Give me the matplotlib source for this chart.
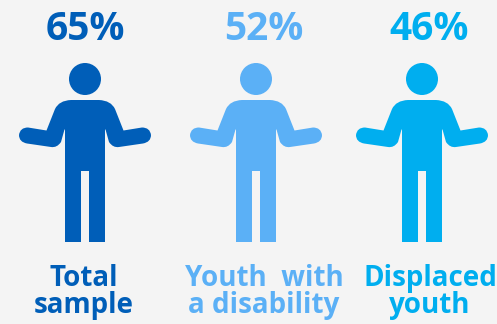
import matplotlib
matplotlib.use("Agg")
import matplotlib.pyplot as plt
from matplotlib.path import Path
from matplotlib.patches import PathPatch, Circle

values = [65, 52, 46]
labels = ["Total\nsample", "Youth  with\na disability", "Displaced\nyouth"]
colors = ["#005EB8", "#5BB0F6", "#00AEEF"]
figure_centers = [85, 256, 422]
text_centers = [84, 264, 430]
value_centers = [85.5, 263.5, 429.5]

W, H = 497, 324
fig = plt.figure(figsize=(W / 100, H / 100), dpi=100, facecolor="#F4F4F4")
ax = fig.add_axes([0, 0, 1, 1])
ax.set_xlim(0, W)
ax.set_ylim(H, 0)
ax.axis("off")

M, L, Q, Z = Path.MOVETO, Path.LINETO, Path.CURVE3, Path.CLOSEPOLY

# Half outline of the shrugging person, top centre down to the inner leg, in pixels from the body axis.
half = [
    (M, 0, 100), (L, 14, 100), (Q, 26, 100.5), (L, 30, 109), (L, 38.5, 130.5),
    (L, 57, 127.5), (Q, 65, 127.5), (L, 66, 135), (Q, 66, 142), (L, 58, 143.5),
    (L, 34, 147), (Q, 28, 148), (L, 24, 142), (L, 20.5, 129.5), (L, 20, 129.5),
    (L, 20, 242), (L, 4, 242), (L, 4, 171), (L, 0, 171),
]


def person_path(cx):
    verts = [(cx + x, y) for _, x, y in half]
    codes = [c for c, _, _ in half]
    # Mirror the outline for the left side. Quadratic control points stay paired with their end points.
    mirrored = half[::-1]
    for i in range(1, len(mirrored)):
        prev_code = mirrored[i - 1][0]
        verts.append((cx - mirrored[i][1], mirrored[i][2]))
        codes.append(Q if prev_code == Q or mirrored[i][0] == Q else L)
    verts.append(verts[0])
    codes.append(Z)
    return Path(verts, codes)


for value, label, color, cx, tx, vx in zip(values, labels, colors, figure_centers, text_centers, value_centers):
    ax.add_patch(PathPatch(person_path(cx), facecolor=color, edgecolor="none"))
    ax.add_patch(Circle((cx, 79), 16, facecolor=color, edgecolor="none"))
    ax.text(vx, 30, f"{value}%", color=color, fontsize=28, fontweight="bold",
            family="Open Sans", ha="center", va="center")
    ax.text(tx, 292, label, color=color, fontsize=20, fontweight="bold",
            family="Open Sans", ha="center", va="center", linespacing=0.95)

fig.savefig("out.png", dpi=100, facecolor=fig.get_facecolor())
